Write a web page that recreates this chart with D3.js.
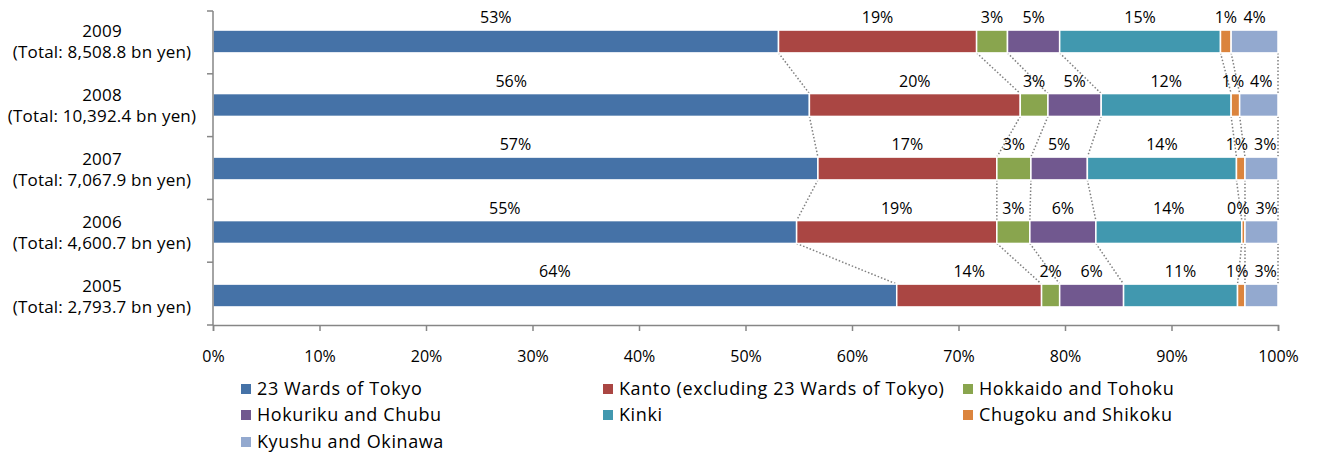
<!DOCTYPE html>
<html><head><meta charset="utf-8">
<script src="https://cdn.jsdelivr.net/npm/d3@7"></script>
<style>
body{margin:0;background:#fff;}
text{font-family:"Open Sans",sans-serif;fill:#000;}
</style></head>
<body><svg id="c" width="1317" height="456"></svg>
<script>
const years = ["2009","2008","2007","2006","2005"];
const totals = ["8,508.8","10,392.4","7,067.9","4,600.7","2,793.7"];
const seriesNames = ["23 Wards of Tokyo","Kanto (excluding 23 Wards of Tokyo)","Hokkaido and Tohoku","Hokuriku and Chubu","Kinki","Chugoku and Shikoku","Kyushu and Okinawa"];
const colors = ["#4572A7","#AA4643","#89A54E","#71588F","#4198AF","#DB843D","#93A9CF"];
// shares (%) per year, in series order
const tokyo23  = [53.1, 56.0, 56.8, 54.8, 64.2];
const kanto    = [18.6, 19.8, 16.8, 18.8, 13.6];
const hokkaido = [2.9, 2.6, 3.2, 3.1, 1.7];
const hokuriku = [4.9, 5.0, 5.3, 6.2, 6.0];
const kinki    = [15.1, 12.2, 14.0, 13.7, 10.7];
const chugoku  = [1.0, 0.8, 0.8, 0.3, 0.7];
const kyushu   = [4.4, 3.6, 3.1, 3.1, 3.1];
const xTicks = [0,10,20,30,40,50,60,70,80,90,100];

const series = [tokyo23,kanto,hokkaido,hokuriku,kinki,chugoku,kyushu];
const rows = years.map((y,i)=>{const o={year:y}; seriesNames.forEach((s,j)=>o[s]=series[j][i]); return o;});
const stacked = d3.stack().keys(seriesNames)(rows);

const svg = d3.select("#c");
const L=213,R=1278,T=11,B=325;
const x = d3.scaleLinear().domain([0,100]).range([L,R]);
const y = d3.scaleBand().domain(years).range([11,326]).paddingInner(0.64).paddingOuter(0.3);
const axisColor="#868686";

// connectors
const gC = svg.append("g");
for(let i=0;i<years.length-1;i++){
  stacked.forEach(s=>{
    gC.append("line").attr("x1",x(s[i][1])).attr("x2",x(s[i+1][1]))
      .attr("y1",y(years[i])+y.bandwidth()).attr("y2",y(years[i+1]))
      .attr("stroke","#7f7f7f").attr("stroke-width",1.5).attr("stroke-dasharray","1.5,2");
  });
}

// bars
stacked.forEach((s,j)=>{
  svg.append("g").selectAll("rect").data(s).join("rect")
    .attr("x",d=>x(d[0])).attr("width",d=>x(d[1])-x(d[0]))
    .attr("y",(d,i)=>y(years[i])).attr("height",y.bandwidth())
    .attr("fill",colors[j]).attr("stroke","#fff").attr("stroke-width",1.5);
});

// data labels
years.forEach((yr,i)=>{
  const labs = stacked.map(s=>({c:x((s[i][0]+s[i][1])/2),t:Math.round(s[i][1]-s[i][0])+"%"}));
  const g=svg.append("g");
  const nodes = labs.map(l=>g.append("text").attr("text-anchor","middle").attr("font-size",16).text(l.t));
  labs.forEach((l,k)=>l.w=nodes[k].node().getComputedTextLength());
  for(let it=0;it<30;it++){
    for(let k=0;k<labs.length-1;k++){
      const a=labs[k],b=labs[k+1];
      const ov=(a.c+a.w/2+6)-(b.c-b.w/2);
      if(ov>0){a.c-=ov/2;b.c+=ov/2;}
    }
    const last=labs[labs.length-1];
    if(last.c+last.w/2>R+5) last.c=R+5-last.w/2;
  }
  nodes.forEach((n,k)=>n.attr("x",labs[k].c).attr("y",y(yr)-7));
});

// y axis
svg.append("line").attr("x1",L).attr("x2",L).attr("y1",T).attr("y2",B).attr("stroke",axisColor).attr("stroke-width",1.5);
d3.range(years.length+1).forEach(k=>{
  const yy=T+k*(B-T)/years.length;
  svg.append("line").attr("x1",L-6).attr("x2",L).attr("y1",yy).attr("y2",yy).attr("stroke",axisColor).attr("stroke-width",1.5);
});
years.forEach((yr,i)=>{
  const cy=y(yr)+y.bandwidth()/2;
  svg.append("text").attr("x",102).attr("y",cy-4).attr("text-anchor","middle").attr("font-size",17).attr("letter-spacing",0.2).text(yr);
  svg.append("text").attr("x",102).attr("y",cy+17).attr("text-anchor","middle").attr("font-size",17).attr("letter-spacing",0.2).text("(Total: "+totals[i]+" bn yen)");
});

// x axis
const xa = svg.append("g").attr("transform",`translate(0,${B})`)
  .call(d3.axisBottom(x).tickValues(xTicks).tickFormat(d=>d+"%").tickSize(6).tickPadding(20));
xa.select(".domain").attr("stroke",axisColor).attr("stroke-width",1.5);
xa.selectAll(".tick line").attr("stroke",axisColor).attr("stroke-width",1.5);
xa.selectAll(".tick text").attr("font-size",16).attr("font-family","Open Sans").attr("fill","#000");

// legend
const colX=[241,603,963], rowY=[389,415,442];
seriesNames.forEach((s,k)=>{
  const cx=colX[k%3], cy=rowY[Math.floor(k/3)];
  svg.append("rect").attr("x",cx).attr("y",cy-5).attr("width",10).attr("height",10).attr("fill",colors[k]);
  svg.append("text").attr("x",cx+16).attr("y",cy+6).attr("font-size",18).attr("letter-spacing",0.6).text(s);
});
</script></body></html>
